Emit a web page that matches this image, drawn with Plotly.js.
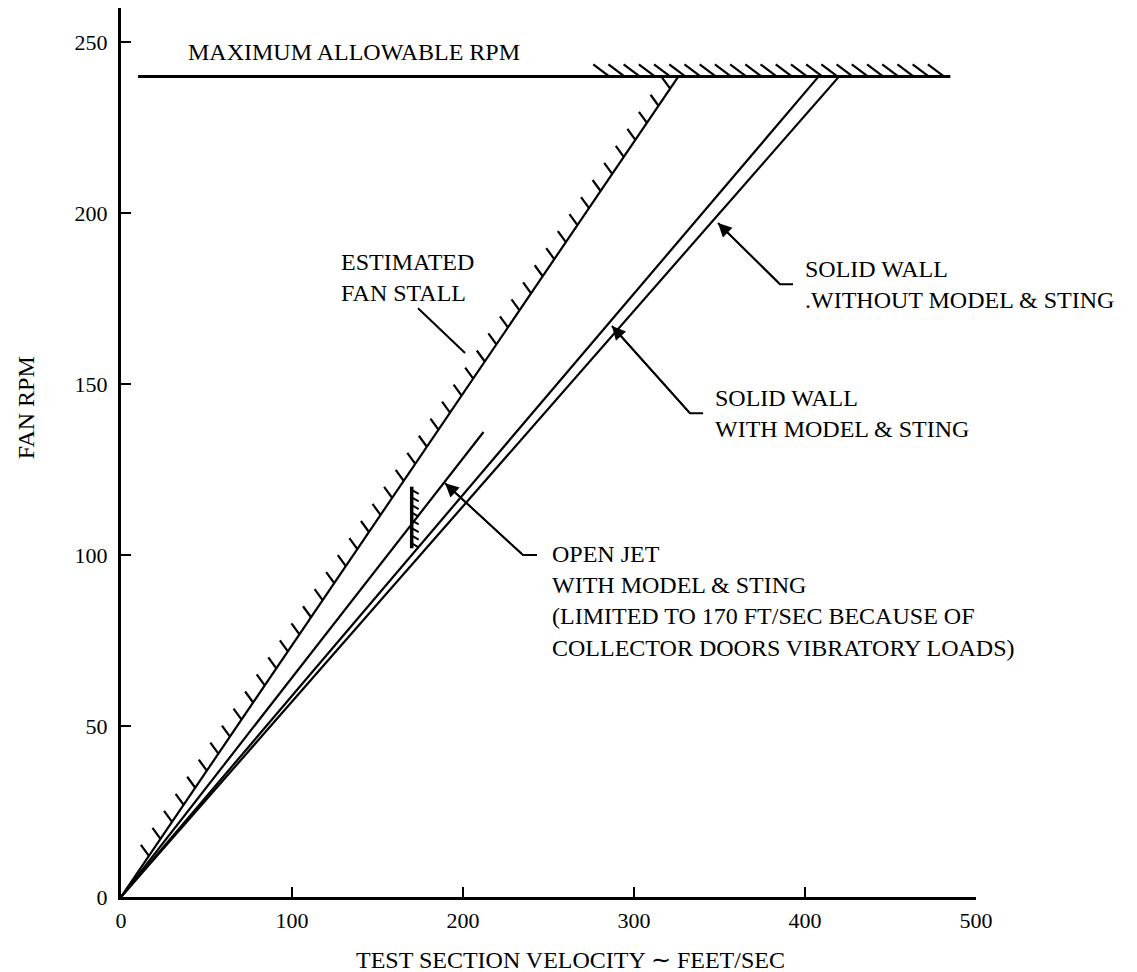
<!DOCTYPE html>
<html><head><meta charset="utf-8">
<script src="https://cdn.plot.ly/plotly-3.0.1.min.js"></script>
<style>body{margin:0;background:#fff}</style>
</head><body>
<div id="chart" style="width:1137px;height:972px"></div>
<script>
// ---- values ----
const xTicks = [0, 100, 200, 300, 400, 500];
const yTicks = [0, 50, 100, 150, 200, 250];
const maxRpmVelocity = [10, 485];
const maxRpmValue = [240, 240];
const stallVelocity = [0, 326];
const stallRpm = [0, 240];
const openJetVelocity = [0, 212];
const openJetRpm = [0, 136];
const solidWithVelocity = [0, 408];
const solidWithRpm = [0, 240];
const solidWithoutVelocity = [0, 420];
const solidWithoutRpm = [0, 240];
const jetLimitVelocity = [170, 170];
const jetLimitRpm = [102, 120];

// ---- layout geometry ----
const W = 1137, H = 972, M = {l:121, r:161, t:8, b:75};
const X_RANGE = [0, 500], Y_RANGE = [0, 260];
const pxX = (W - M.l - M.r) / (X_RANGE[1] - X_RANGE[0]);
const pxY = (H - M.t - M.b) / (Y_RANGE[1] - Y_RANGE[0]);
const FONT = 'Liberation Serif, Times New Roman, serif';

// hatch strokes along a segment (decoration), offsets in screen pixels
function hatch(xa, ya, f0, f1, n, off) {
  const xs = [], ys = [];
  for (let i = 0; i < n; i++) {
    const f = f0 + (f1 - f0) * i / (n - 1);
    const bx = xa[0] + (xa[1] - xa[0]) * f;
    const by = ya[0] + (ya[1] - ya[0]) * f;
    xs.push(bx, bx + off[0] / pxX, null);
    ys.push(by, by - off[1] / pxY, null);
  }
  return {x: xs, y: ys};
}
const stallHatch = hatch(stallVelocity, stallRpm, 0.05, 0.985, 46, [-8, -11]);
const maxHatch = hatch(maxRpmVelocity, maxRpmValue, 0.58, 0.992, 23, [-16, -12]);
const jetHatch = hatch(jetLimitVelocity, jetLimitRpm, 0.08, 0.95, 8, [7, 4]);

const line = (x, y, w) => ({x, y, type: 'scatter', mode: 'lines',
  line: {color: '#000', width: w}, hoverinfo: 'skip', showlegend: false});

const traces = [
  line(maxRpmVelocity, maxRpmValue, 3),
  line(maxHatch.x, maxHatch.y, 2.2),
  line(stallVelocity, stallRpm, 2.2),
  line(stallHatch.x, stallHatch.y, 2.2),
  line(openJetVelocity, openJetRpm, 2.2),
  line(solidWithVelocity, solidWithRpm, 2.2),
  line(solidWithoutVelocity, solidWithoutRpm, 2.2),
  line(jetLimitVelocity, jetLimitRpm, 3.5),
  line(jetHatch.x, jetHatch.y, 2)
];

const txt = (x, y, text, extra) => Object.assign({x, y, xref: 'x', yref: 'y', text,
  showarrow: false, xanchor: 'left', yanchor: 'middle', align: 'left',
  font: {family: FONT, size: 24, color: '#000'}}, extra || {});
const arrow = (tx, ty, fx, fy) => ({x: tx, y: ty, ax: fx, ay: fy, xref: 'x', yref: 'y',
  axref: 'x', ayref: 'y', text: '', showarrow: true, arrowhead: 2, arrowsize: 1.6,
  arrowwidth: 1.7, arrowcolor: '#000', standoff: 0, startstandoff: 0});
const seg = (pts) => ({type: 'path', xref: 'x', yref: 'y',
  path: 'M' + pts.map(p => p[0] + ',' + p[1]).join('L'),
  line: {color: '#000', width: 2}});

const annotations = [
  txt(38, 247.1, 'MAXIMUM ALLOWABLE RPM'),
  txt(127.5, 181.3, 'ESTIMATED<br>FAN STALL'),
  txt(398.8, 179.2, 'SOLID WALL<br>.WITHOUT MODEL &amp; STING'),
  txt(346.2, 141.5, 'SOLID WALL<br>WITH MODEL &amp; STING'),
  txt(250.9, 104.6, 'OPEN JET<br>WITH MODEL &amp; STING<br>(LIMITED TO 170 FT/SEC BECAUSE OF<br>COLLECTOR DOORS VIBRATORY LOADS)', {yanchor: 'top'}),
  arrow(349.1, 197.1, 385.4, 179.2),
  arrow(287.1, 167.0, 332.7, 141.5),
  arrow(189.5, 121.0, 235.1, 100.0),
  {x: 262.6, y: -0.0709, xref: 'x', yref: 'paper', text: 'TEST SECTION VELOCITY \u223C FEET/SEC',
   showarrow: false, xanchor: 'center', yanchor: 'middle', font: {family: FONT, size: 24, color: '#000'}},
  {x: -0.111, y: 143, xref: 'paper', yref: 'y', text: 'FAN RPM', textangle: -90,
   showarrow: false, xanchor: 'center', yanchor: 'middle', font: {family: FONT, size: 24, color: '#000'}}
];

const shapes = [
  seg([[173.7, 172.2], [201.2, 159.1]]),
  seg([[349.1, 197.1], [385.4, 179.2], [393.0, 179.2]]),
  seg([[287.1, 167.0], [332.7, 141.5], [340.4, 141.5]]),
  seg([[189.5, 121.0], [235.1, 100.0], [243.3, 100.0]])
];

const axisBase = {showline: true, linewidth: 3, linecolor: '#000', ticks: 'inside',
  ticklen: 10, tickwidth: 2, tickcolor: '#000', showgrid: false, zeroline: false,
  tickfont: {family: FONT, size: 22, color: '#000'}, fixedrange: true};

const layout = {
  width: W, height: H, margin: M, paper_bgcolor: '#fff', plot_bgcolor: '#fff',
  showlegend: false,
  xaxis: Object.assign({}, axisBase, {range: X_RANGE, tickvals: xTicks, ticktext: xTicks.map(String), ticklabelstandoff: 2}),
  yaxis: Object.assign({}, axisBase, {range: Y_RANGE, tickvals: yTicks, ticktext: yTicks.map(String), ticklabelstandoff: 6}),
  annotations, shapes
};
Plotly.newPlot('chart', traces, layout, {displayModeBar: false, staticPlot: true});
</script>
</body></html>
